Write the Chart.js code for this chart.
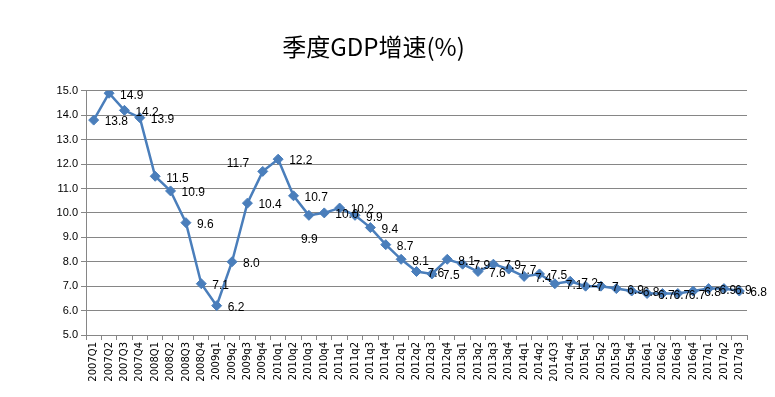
<!DOCTYPE html>
<html>
<head>
<meta charset="utf-8">
<script src="https://cdn.jsdelivr.net/npm/chart.js@4/dist/chart.umd.min.js"></script>
<style>
  html, body { margin: 0; padding: 0; background: #fff; }
  #wrap { width: 775px; height: 397px; position: relative; }
</style>
</head>
<body>
<div id="wrap"><canvas id="gdpChart"></canvas></div>
<script>
// quarters as printed on the axis
const quarters = [
  "2007Q1","2007Q2","2007Q3","2007Q4","2008Q1","2008Q2","2008Q3","2008Q4",
  "2009q1","2009q2","2009q3","2009q4","2010q1","2010q2","2010q3","2010q4",
  "2011q1","2011q2","2011q3","2011q4","2012q1","2012q2","2012q3","2012q4",
  "2013q1","2013q2","2013q3","2013q4","2014q1","2014q2","2014Q3","2014q4",
  "2015q1","2015q2","2015q3","2015q4","2016q1","2016q2","2016q3","2016q4",
  "2017q1","2017q2","2017q3"
];

const growth = [
  13.8, 14.9, 14.2, 13.9, 11.5, 10.9, 9.6, 7.1,
  6.2, 8.0, 10.4, 11.7, 12.2, 10.7, 9.9, 10.0,
  10.2, 9.9, 9.4, 8.7, 8.1, 7.6, 7.5, 8.1,
  7.9, 7.6, 7.9, 7.7, 7.4, 7.5, 7.1, 7.2,
  7, 7, 6.9, 6.8, 6.7, 6.7, 6.7, 6.8,
  6.9, 6.9, 6.8
];

const yMin = 5, yMax = 15, yStep = 1;

const lineColor = "#4A7EBB";
const gridColor = "#868686";

// older values were shown with one decimal, the later ones as typed
function labelText(v, i) {
  return i >= 32 ? String(v) : v.toFixed(1);
}

// a couple of labels were dragged off the default "right" spot
const labelNudge = { 11: [-36, -8], 14: [-8, 24] };

const pointLabels = {
  id: 'pointLabels',
  afterDatasetsDraw(chart) {
    const ctx = chart.ctx;
    const meta = chart.getDatasetMeta(0);
    ctx.save();
    ctx.font = "12px 'Liberation Sans', sans-serif";
    ctx.fillStyle = "#000";
    ctx.textBaseline = "middle";
    ctx.textAlign = "left";
    meta.data.forEach((pt, i) => {
      let dx = 11, dy = 2;
      if (labelNudge[i]) { dx = labelNudge[i][0]; dy = labelNudge[i][1]; }
      ctx.fillText(labelText(growth[i], i), pt.x + dx, pt.y + dy);
    });
    ctx.restore();
  }
};

new Chart(document.getElementById('gdpChart'), {
  type: 'line',
  data: {
    labels: quarters,
    datasets: [{
      data: growth,
      borderColor: lineColor,
      backgroundColor: lineColor,
      borderWidth: 2.5,
      pointStyle: 'rectRot',
      pointRadius: 5,
      pointBorderWidth: 1,
      pointBackgroundColor: lineColor,
      pointBorderColor: lineColor,
      tension: 0,
      fill: false
    }]
  },
  options: {
    responsive: true,
    maintainAspectRatio: false,
    animation: false,
    layout: { padding: { left: 0, right: 28, top: 0, bottom: 0 } },
    plugins: {
      legend: { display: false },
      tooltip: { enabled: false },
      title: {
        display: true,
        text: '季度GDP增速(%)',
        color: '#000',
        font: { family: "'Noto Sans CJK SC', sans-serif", size: 24, weight: 'normal' },
        padding: { top: 32, bottom: 30 }
      }
    },
    scales: {
      x: {
        offset: true,
        grid: {
          offset: true,
          drawOnChartArea: false,
          drawTicks: true,
          tickLength: 5,
          color: gridColor
        },
        border: { color: gridColor, width: 1 },
        ticks: {
          autoSkip: false,
          maxRotation: 90,
          minRotation: 90,
          color: '#000',
          padding: 2,
          font: { family: "'DejaVu Sans', sans-serif", size: 10 }
        },
        afterFit(scale) { scale.height = 62; }
      },
      y: {
        min: yMin,
        max: yMax,
        grid: {
          color: gridColor,
          drawTicks: true,
          tickLength: 5
        },
        border: { color: gridColor, width: 1 },
        ticks: {
          stepSize: yStep,
          color: '#000',
          padding: 3,
          font: { family: "'Liberation Sans', sans-serif", size: 11 },
          callback: v => v.toFixed(1)
        },
        afterFit(scale) { scale.width = 86; }
      }
    }
  },
  plugins: [pointLabels]
});
</script>
</body>
</html>
